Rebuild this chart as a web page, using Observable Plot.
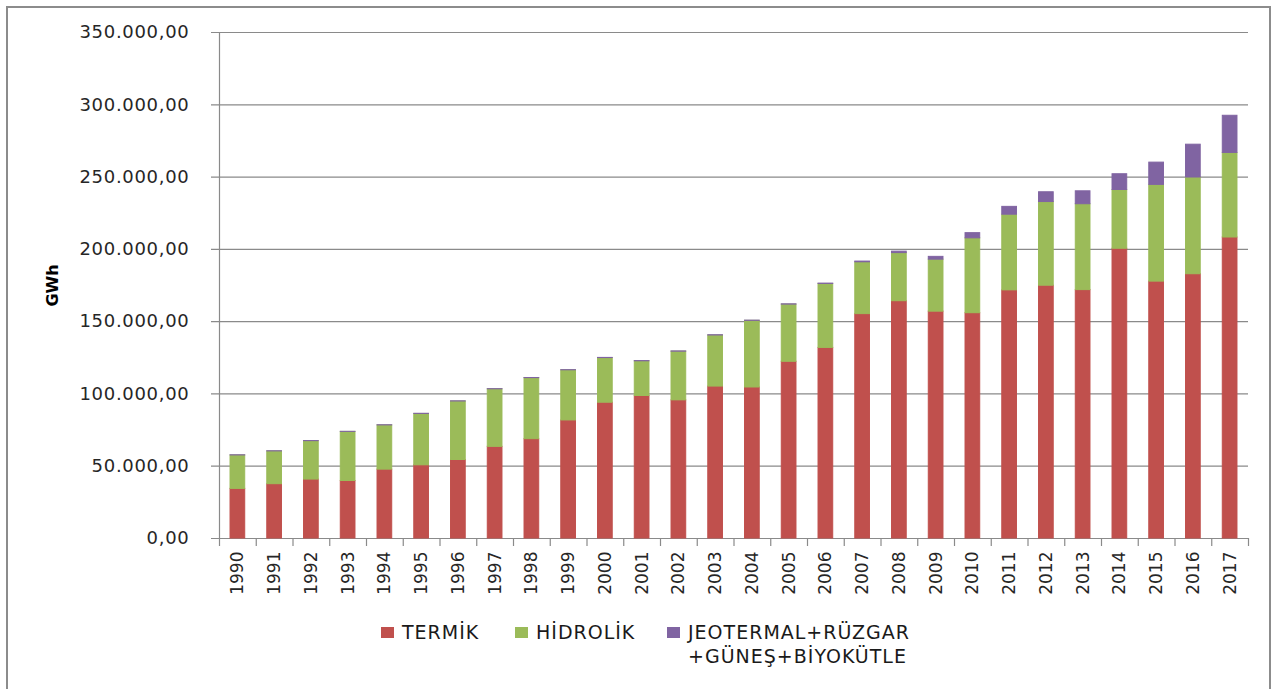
<!DOCTYPE html>
<html>
<head>
<meta charset="utf-8">
<script src="https://cdn.jsdelivr.net/npm/d3@7"></script>
<script src="https://cdn.jsdelivr.net/npm/@observablehq/plot@0.6"></script>
<style>
  html, body { margin: 0; padding: 0; background: #fff; }
  body { width: 1276px; height: 689px; position: relative; overflow: hidden; font-family: "DejaVu Sans", sans-serif; }
  #frame { position: absolute; left: 6px; top: 6px; width: 1265px; height: 720px; border: 2px solid #8c8c8c; box-sizing: border-box; }
  #chart { position: absolute; left: 0; top: 0; }
  #chart svg g[aria-label="y-axis tick label"] text { letter-spacing: 0.7px; }
  #chart svg g[aria-label="y-axis label"] text { font-weight: bold; font-size: 16px; fill: #000; }
  .leg { position: absolute; font-size: 19px; letter-spacing: 1px; color: #1a1a1a; line-height: 24px; white-space: nowrap; }
  .sw { position: absolute; width: 13px; height: 11px; }
</style>
</head>
<body>
<div id="frame"></div>
<div id="chart"></div>
<div id="legend"></div>
<script>
// ---- data (GWh) ----
const years = [1990, 1991, 1992, 1993, 1994, 1995, 1996, 1997, 1998, 1999,
               2000, 2001, 2002, 2003, 2004, 2005, 2006, 2007, 2008, 2009,
               2010, 2011, 2012, 2013, 2014, 2015, 2016, 2017];
const termik = [34315, 37563, 40774, 39779, 47657, 50621, 54302, 63397, 68703, 81661,
                93934, 98563, 95563, 105101, 104464, 122242, 131835, 155196, 164139, 156923,
                155828, 171638, 174872, 171804, 200417, 177700, 182800, 208200];
const hidrolik = [23148, 22683, 26568, 33951, 30586, 35541, 40475, 39816, 42229, 34678,
                  30879, 24010, 33684, 35330, 46084, 39561, 44244, 35851, 33270, 35958,
                  51796, 52339, 57865, 59420, 40645, 66900, 66900, 58500];
const yenilenebilir = [80, 81, 70, 57, 79, 86, 84, 83, 90, 102,
                       109, 152, 153, 150, 151, 153, 221, 511, 1009, 1931,
                       3585, 5418, 6760, 8930, 10901, 15400, 22700, 25700];
const seriesNames = ["TERMİK", "HİDROLİK", "JEOTERMAL+RÜZGAR+GÜNEŞ+BİYOKÜTLE"];
const seriesColors = ["#C0504D", "#9BBB59", "#8064A2"];
const yTicks = [0, 50000, 100000, 150000, 200000, 250000, 300000, 350000];

// ---- tidy table ----
const seriesValues = [termik, hidrolik, yenilenebilir];
const rows = [];
years.forEach((yr, i) => {
  seriesValues.forEach((vals, s) => rows.push({yil: String(yr), seri: seriesNames[s], deger: vals[i]}));
});
const yearStr = years.map(String);

const fmt = d3.formatLocale({decimal: ",", thousands: ".", grouping: [3], currency: ["", ""]}).format(",.2f");

const W = 1276, H = 610, mL = 219, mR = 28, mT = 32, mB = 72;
const step = (W - mL - mR) / years.length;
const gridColor = "#8a8a8a";

const chart = Plot.plot({
  width: W, height: H,
  marginLeft: mL, marginRight: mR, marginTop: mT, marginBottom: mB,
  style: {fontFamily: "DejaVu Sans, sans-serif", fontSize: "17px", color: "#262626", background: "transparent", overflow: "visible"},
  x: {type: "band", domain: yearStr, paddingInner: 0.6, paddingOuter: 0.3, round: false, label: null},
  y: {domain: [0, 350000], label: "GWh"},
  color: {domain: seriesNames, range: seriesColors},
  marks: [
    Plot.gridY(yTicks, {stroke: gridColor, strokeOpacity: 1, strokeWidth: 1.2, insetLeft: -8}),
    Plot.barY(rows, Plot.stackY({x: "yil", y: "deger", fill: "seri", stroke: "seri", strokeWidth: 1, order: seriesNames})),
    Plot.axisY({ticks: yTicks, tickFormat: fmt, tickSize: 0, tickPadding: 30, fontSize: 18,
                label: "GWh", labelAnchor: "center", labelArrow: "none", labelOffset: 173}),
    Plot.axisX({tickSize: 0, tickRotate: -90, tickPadding: 13, fontSize: 17, label: null}),
    // vertical axis line
    Plot.ruleX(yearStr.slice(0, 1), {x: d => d, dx: -step / 2, stroke: gridColor, strokeWidth: 1.2}),
    // category boundary tick marks
    Plot.ruleX(yearStr, {x: d => d, dx: -step / 2, y1: 0, y2: 0, insetBottom: -8, stroke: gridColor, strokeWidth: 1.2}),
    Plot.ruleX(yearStr.slice(-1), {x: d => d, dx: step / 2, y1: 0, y2: 0, insetBottom: -8, stroke: gridColor, strokeWidth: 1.2})
  ]
});
document.getElementById("chart").appendChild(chart);

// ---- legend ----
const legend = document.getElementById("legend");
const legItems = [
  {x: 381, text: "TERMİK"},
  {x: 515, text: "HİDROLİK"},
  {x: 667, text: "JEOTERMAL+RÜZGAR<br>+GÜNEŞ+BİYOKÜTLE"}
];
legItems.forEach((it, i) => {
  const sw = document.createElement("div");
  sw.className = "sw";
  sw.style.left = it.x + "px";
  sw.style.top = "627px";
  sw.style.background = seriesColors[i];
  legend.appendChild(sw);
  const t = document.createElement("div");
  t.className = "leg";
  t.style.left = (it.x + 21) + "px";
  t.style.top = "620px";
  t.innerHTML = it.text;
  legend.appendChild(t);
});
</script>
</body>
</html>
